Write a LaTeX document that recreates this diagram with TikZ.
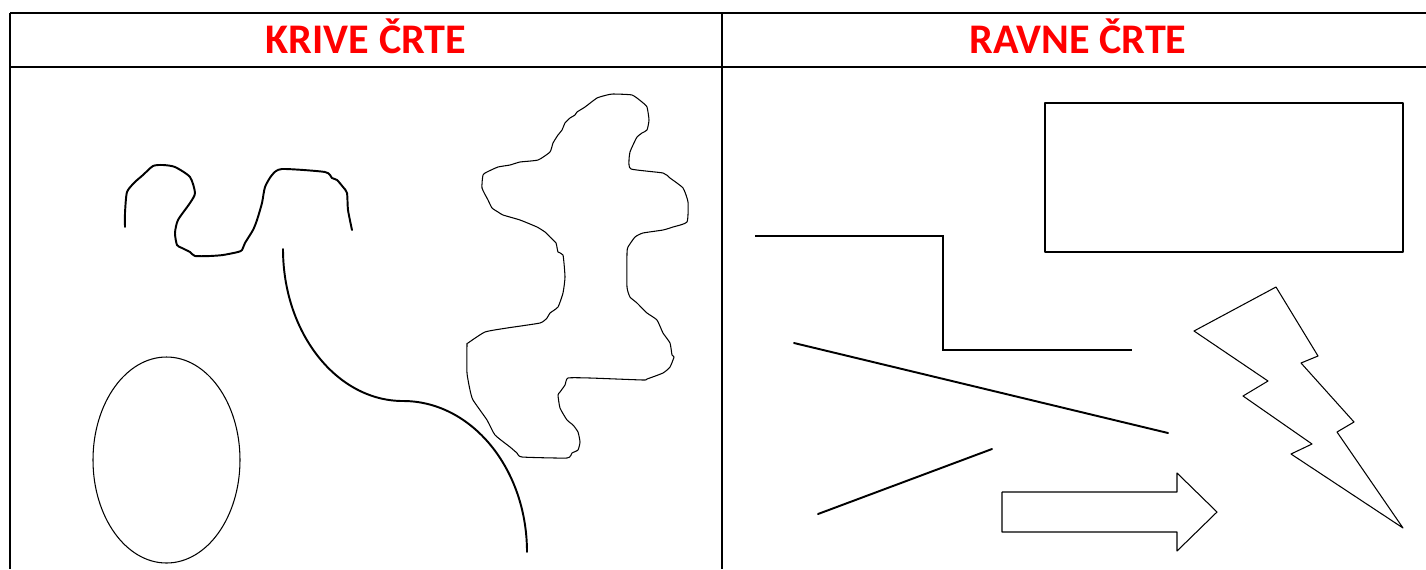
\documentclass[tikz,border=0pt]{standalone}
\usepackage{fontspec}
\setmainfont{Carlito}
\usepackage{xcolor}
\usepackage{tikz}
\usetikzlibrary{calc}
\definecolor{headred}{RGB}{255,0,0}

\begin{document}
\begin{tikzpicture}[x=0.02cm, y=-0.02cm,
  thinline/.style={line width=0.6pt, line join=round},
  thickline/.style={line width=1.1pt, line cap=round, line join=round},
  tablerule/.style={line width=1.7pt},
  headtext/.style={font=\fontsize{24}{28}\selectfont\bfseries, text=headred, anchor=base, inner sep=0pt}]

\useasboundingbox (0,0) rectangle (1426,569);

% Table frame
\draw[tablerule] (10,13) -- (1426,13);
\draw[tablerule] (10,67) -- (1426,67);
\draw[line width=1.1pt] (10,13) -- (10,569);
\draw[line width=1.1pt] (722,13) -- (722,569);

% Column headers
\node[headtext] (krive) at (366,53.3) {KRIVE ČRTE};
\node[headtext] (ravne) at (1078,53.3) {RAVNE ČRTE};

% Curved lines: squiggle
\draw[thickline] plot[smooth, tension=0.4] coordinates {
  (125,227) (125,213) (127,192) (135,182) (143,175) (153,166) (163,165)
  (175,167) (190,177) (195,193) (190,203) (178,220) (175,233) (177,245)
  (182,248) (190,252) (195,256) (210,256) (223,255) (238,252) (242,250)
  (245,243) (253,230) (257,220) (262,203) (265,187) (272,175) (282,169)
  (325,172) (332,178) (337,180) (343,187) (347,193) (348,210) (352,230)};

% Curved lines: double arc
\draw[thickline] (283,249) arc[start angle=180, end angle=90, x radius=120, y radius=152]
  arc[start angle=270, end angle=360, x radius=124, y radius=151];

% Curved lines: ellipse
\draw[thinline] (166.5,460) ellipse[x radius=73.5, y radius=103];

% Curved lines: blob
\draw[thinline] plot[smooth cycle, tension=0.3] coordinates {
  (613,94) (632,95) (642,102) (647,107) (649,120) (647,130) (642,133)
  (637,137) (633,145) (630,152) (629,160) (631,169) (663,173) (670,178)
  (683,188) (688,202) (687,222) (673,227) (663,230) (643,233) (635,237)
  (628,247) (627,253) (627,287) (630,297) (637,303) (647,313) (657,320)
  (663,333) (670,343) (672,355) (674,357) (670,367) (663,373) (647,379)
  (643,380) (590,378) (568,378) (565,385) (560,392) (558,395) (560,408)
  (567,420) (573,425) (578,432) (580,442) (578,450) (572,453) (567,458)
  (522,457) (517,453) (510,447) (495,435) (487,420) (473,400) (470,390)
  (467,373) (467,345) (468,343) (485,332) (507,328) (540,323) (547,318)
  (550,313) (558,307) (563,293) (565,277) (563,255) (558,252) (556,243)
  (550,237) (545,232) (537,227) (520,220) (503,215) (498,212) (492,208)
  (488,200) (482,188) (483,175) (487,172) (498,167) (510,165) (520,162)
  (538,160) (550,152) (553,143) (558,135) (562,130) (565,123) (570,118)
  (575,115) (577,112) (585,107) (597,98) (607,95)};

% Straight lines: step
\draw[thickline, line cap=butt, line join=miter] (755,236) -- (943,236) -- (943,350) -- (1132,350);

% Straight lines: two slanted segments
\draw[thickline] (794,343) -- (1168,433);
\draw[thickline] (818,514) -- (992,449);

% Straight lines: rectangle
\draw[thinline] (1045,103) rectangle (1403,252);

% Straight lines: lightning bolt
\draw[thinline] (1276,287) -- (1318,356) -- (1301,363) -- (1354,422) -- (1337,432)
  -- (1403,528) -- (1291,454) -- (1312,444) -- (1243,396) -- (1268,381)
  -- (1194,331) -- cycle;

% Straight lines: block arrow
\draw[thinline] (1002,492) -- (1177,492) -- (1177,473) -- (1217,512) -- (1177,551)
  -- (1177,532) -- (1002,532) -- cycle;

\end{tikzpicture}
\end{document}
